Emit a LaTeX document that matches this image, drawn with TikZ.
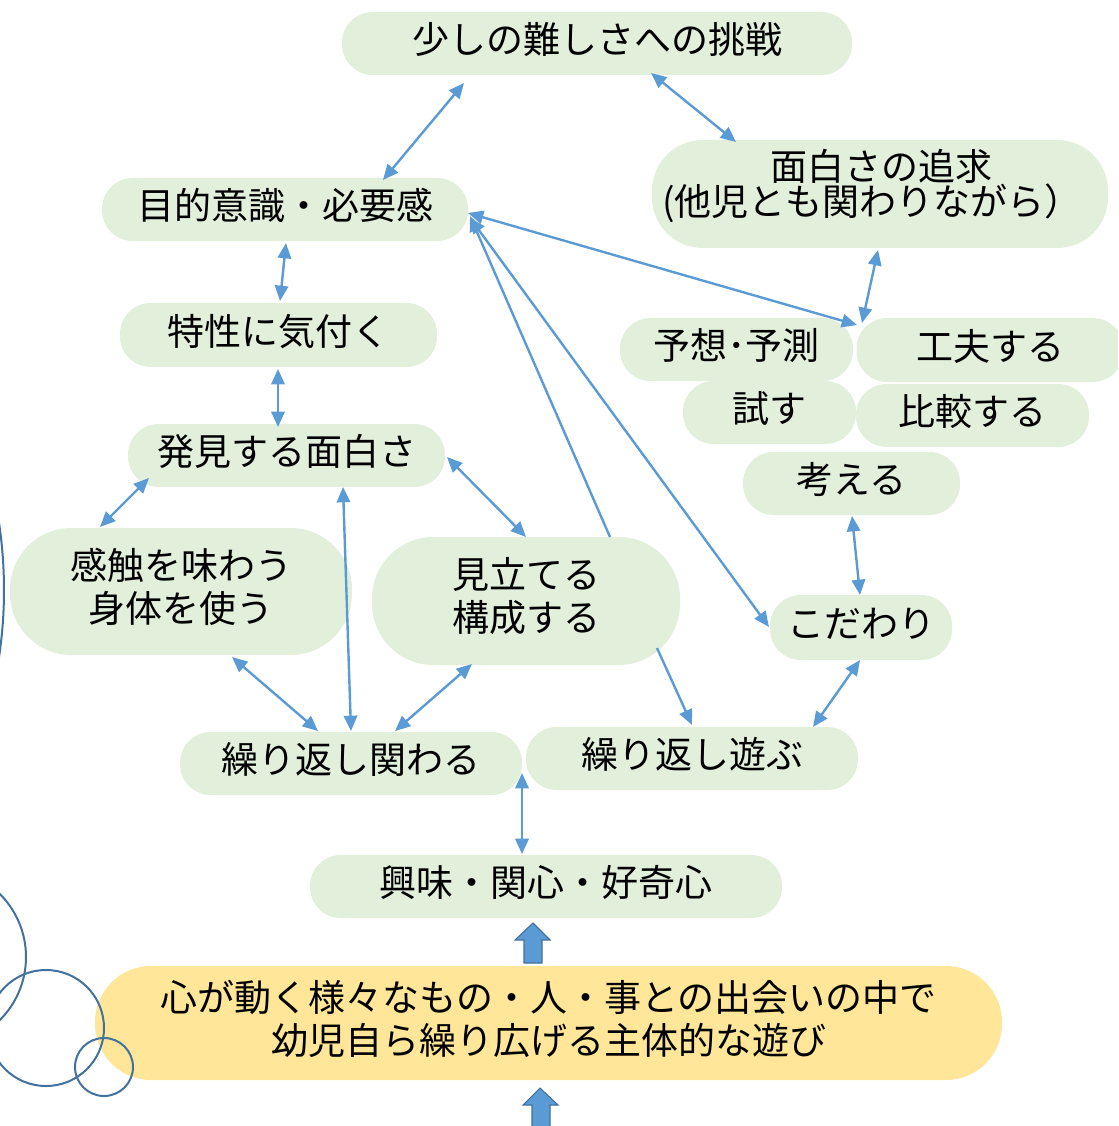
\documentclass[tikz,border=0pt]{standalone}
\usepackage{fontspec}
\setmainfont{Noto Sans CJK JP}
\usetikzlibrary{arrows.meta,calc}
\definecolor{boxgreen}{HTML}{E2EFDA}
\definecolor{boxyellow}{HTML}{FFE699}
\definecolor{arrowblue}{HTML}{5B9BD5}
\definecolor{ringblue}{HTML}{41719C}
\tikzset{
  jp/.style={font=\fontsize{27.75}{32}\selectfont},
  pill/.style={fill=boxgreen, inner sep=0pt, rounded corners=23pt, jp, text height=22pt, text depth=7pt},
  shapeonly/.style={fill=boxgreen, inner sep=0pt, rounded corners=#1},
  label/.style={jp, align=center, inner sep=0pt},
  sz/.style 2 args={minimum width=#1*0.75pt, minimum height=#2*0.75pt},
  link/.style={draw=arrowblue, line width=1.8pt, {Triangle[length=11.5pt,width=10pt]}-{Triangle[length=11.5pt,width=10pt]}},
  onelink/.style={draw=arrowblue, line width=1.8pt, -{Triangle[length=11.5pt,width=10pt]}},
  ring/.style={draw=ringblue, line width=1.5pt},
  blockarrow/.style={fill=arrowblue, draw=ringblue, line width=0.8pt}
}
\begin{document}
\begin{tikzpicture}[x=0.75pt,y=-0.75pt]
\useasboundingbox (0,0) rectangle (1118,1126);
\clip (0,0) rectangle (1118,1126);

% nodes
\node[pill, sz={510}{63}] (top) at (597,43.5) {少しの難しさへの挑戦};
\node[shapeonly=38pt, sz={456}{108}] (oms) at (880,194) {};
\node[label] (omsT) at (872,186) {\hspace*{14pt}面白さの追求\\[-6pt](他児とも関わりながら）};
\node[pill, sz={366}{63}] (mok) at (285,209.5) {目的意識・必要感};
\node[pill, sz={317}{64}] (tok) at (278.5,335) {特性に気付く};
\node[pill, sz={233}{63}] (yos) at (736.5,349.5) {予想･予測};
\node[pill, sz={267}{64}] (kuf) at (990,350) {工夫する};
\node[pill, sz={173}{63}] (tam) at (769.5,412.5) {試す};
\node[pill, sz={233}{63}] (hik) at (972.5,415.5) {比較する};
\node[pill, sz={217}{63}] (kan) at (851.5,483.5) {考える};
\node[pill, sz={317}{63}] (hak) at (286.5,455.5) {発見する面白さ};
\node[shapeonly=46pt, sz={342}{127}] (kns) at (181,591.5) {};
\node[label] (knsT) at (181,587) {感触を味わう\\身体を使う};
\node[shapeonly=46pt, sz={308}{128}] (mit) at (526,601) {};
\node[label] (mitT) at (526,596) {見立てる\\構成する};
\node[pill, sz={182}{65}] (kod) at (861,627.5) {こだわり};
\node[pill, sz={342}{63}] (kkk) at (351,763.5) {繰り返し関わる};
\node[pill, sz={332}{63}] (kka) at (692,758.5) {繰り返し遊ぶ};
\node[pill, sz={472}{63}] (kyo) at (546,886.5) {興味・関心・好奇心};
\node[fill=boxyellow, inner sep=0pt, rounded corners=42pt, sz={907}{114}] (yel) at (548.5,1023) {};
\node[label] (yelT) at (548.5,1019) {心が動く様々なもの・人・事との出会いの中で\\幼児自ら繰り広げる主体的な遊び};

% connectors
\draw[link] ([shift={(98,-29.5)}]mok.center) -- ([shift={(-133,39.5)}]top.center);
\draw[link] ([shift={(54,29.5)}]top.center) -- ([shift={(-144,-52)}]oms.center);
\draw[link] ([shift={(183,3.5)}]mok.center) -- ([shift={(-133,-25)}]kuf.center);
\draw[link] ([shift={(-2,56)}]oms.center) -- ([shift={(-128,-27)}]kuf.center);
\draw[link] ([shift={(1,33.5)}]mok.center) -- ([shift={(1.5,-34)}]tok.center);
\draw[link] ([shift={(-0.5,34)}]tok.center) -- ([shift={(-8.5,-28.5)}]hak.center);
\draw[link] ([shift={(-137.5,22.5)}]hak.center) -- ([shift={(-81,-64.5)}]kns.center);
\draw[link] ([shift={(160.5,1.5)}]hak.center) -- ([shift={(0,-64)}]mit.center);
\draw[link] ([shift={(56.5,31.5)}]hak.center) -- ([shift={(0,-32.5)}]kkk.center);
\draw[link] ([shift={(51,65.5)}]kns.center) -- ([shift={(-33,-32.5)}]kkk.center);
\draw[link] ([shift={(-54,63)}]mit.center) -- ([shift={(44,-32.5)}]kkk.center);
\draw[onelink] ([shift={(84,-64)}]mit.center) -- ([shift={(185,6.5)}]mok.center);
\draw[onelink] ([shift={(131,47)}]mit.center) -- ([shift={(0,-33.5)}]kka.center);
\draw[link] ([shift={(185,8.5)}]mok.center) -- ([shift={(-92,-0.5)}]kod.center);
\draw[link] ([shift={(0.5,32.5)}]kan.center) -- ([shift={(-1,-32.5)}]kod.center);
\draw[link] ([shift={(-1,32.5)}]kod.center) -- ([shift={(121,-31.5)}]kka.center);
\draw[link] ([shift={(171,9.5)}]kkk.center) -- ([shift={(-24,-32.5)}]kyo.center);

% block arrows
\draw[blockarrow] (533,923) -- (550,940) -- (542,940) -- (542,963) -- (524,963) -- (524,940) -- (515,940) -- cycle;
\draw[blockarrow] (540,1088) -- (558,1105) -- (550,1105) -- (550,1130) -- (532,1130) -- (532,1105) -- (523,1105) -- cycle;

% decorative rings
\draw[ring] (-63,957) circle[radius=66.75pt];
\draw[ring] (46,1028) circle[radius=43.5pt];
\draw[ring] (104,1067) circle[radius=21.75pt];
\draw[ring] (-446,590) circle[radius=337.5pt];
\end{tikzpicture}
\end{document}
